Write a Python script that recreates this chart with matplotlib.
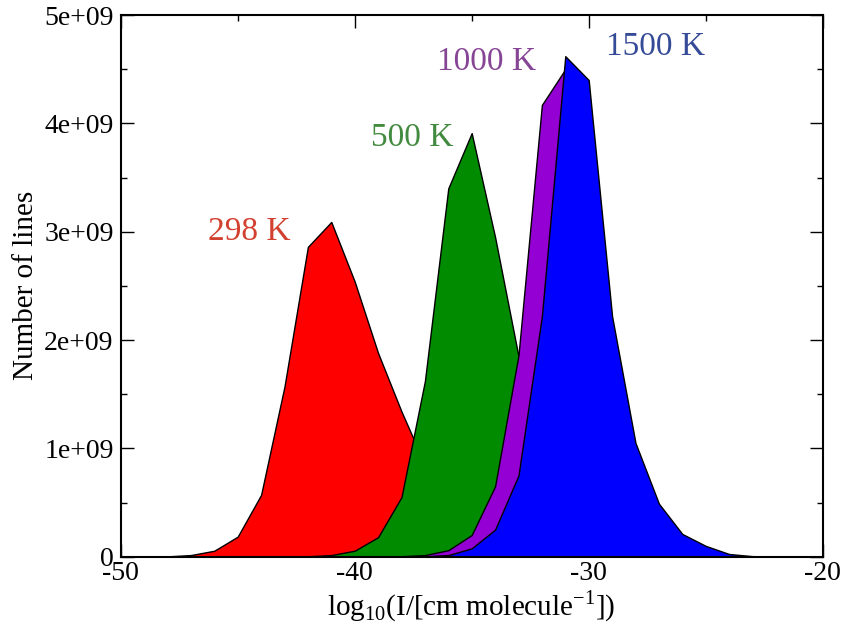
import matplotlib
matplotlib.use("Agg")
import matplotlib.pyplot as plt

# Line-intensity histograms, one bin per unit of log10(I)
LOG_I = list(range(-50, -19))

# number of lines, in units of 1e9
N_298 = [0, 0, 0.003, 0.015, 0.055, 0.185, 0.57, 1.57, 2.86, 3.09,
         2.54, 1.88, 1.34, 0.85, 0.45, 0.2, 0.08, 0.03, 0.01, 0.003,
         0, 0, 0, 0, 0, 0, 0, 0, 0, 0, 0]
N_500 = [0, 0, 0, 0, 0, 0, 0, 0.001, 0.004, 0.015,
         0.055, 0.18, 0.55, 1.62, 3.40, 3.91, 2.95, 1.85, 0.9, 0.35,
         0.12, 0.04, 0.01, 0.003, 0, 0, 0, 0, 0, 0, 0]
N_1000 = [0, 0, 0, 0, 0, 0, 0, 0, 0, 0,
          0, 0.001, 0.004, 0.015, 0.06, 0.2, 0.65, 1.86, 4.17, 4.5,
          3.3, 1.6, 0.65, 0.25, 0.09, 0.03, 0.008, 0.002, 0, 0, 0]
N_1500 = [0, 0, 0, 0, 0, 0, 0, 0, 0, 0,
          0, 0, 0.001, 0.004, 0.015, 0.077, 0.25, 0.75, 2.22, 4.62,
          4.40, 2.22, 1.05, 0.49, 0.21, 0.10, 0.025, 0.005, 0.001, 0, 0]

SERIES = [
    ("298 K", N_298, "#ff0000", "#d2402f", (-44.5, 3.0)),
    ("500 K", N_500, "#008b00", "#428a3f", (-37.55, 3.87)),
    ("1000 K", N_1000, "#9400d3", "#874596", (-34.35, 4.57)),
    ("1500 K", N_1500, "#0000ff", "#364b98", (-27.15, 4.71)),
]

plt.rcParams["font.family"] = ["Liberation Serif", "DejaVu Serif"]
plt.rcParams["mathtext.fontset"] = "custom"
plt.rcParams["mathtext.rm"] = "Liberation Serif"

fig = plt.figure(figsize=(8.45, 6.39), dpi=100)
ax = fig.add_axes([0.1428, 0.1288, 0.8308, 0.8477])

for label, counts, fill, text_color, (tx, ty) in SERIES:
    ys = [c * 1e9 for c in counts]
    ax.fill_between(LOG_I, ys, 0, facecolor=fill, edgecolor="black", linewidth=1.0, zorder=2)
    ax.text(tx, ty * 1e9, label, color=text_color, fontsize=24, ha="center", va="center", zorder=3)

ax.set_xlim(-50, -20)
ax.set_ylim(0, 5e9)
ax.set_xticks([-50, -40, -30, -20])
ax.set_xticks([-45, -35, -25], minor=True)
ax.set_yticks([i * 1e9 for i in range(6)])
ax.set_yticks([(i + 0.5) * 1e9 for i in range(5)], minor=True)
ax.set_yticklabels(["0", "1e+09", "2e+09", "3e+09", "4e+09", "5e+09"])
ax.set_xticklabels(["-50", "-40", "-30", "-20"])

ax.tick_params(which="both", direction="in", top=True, right=True, labelsize=20, width=1.0)
ax.tick_params(axis="x", which="major", length=9.5, pad=3)
ax.tick_params(axis="y", which="major", length=9.5, pad=5)
ax.tick_params(which="minor", length=4.5)
for sp in ax.spines.values():
    sp.set_linewidth(1.5)

ax.set_ylabel("Number of lines", fontsize=21, labelpad=4)
ax.set_xlabel(r"log$_{10}$(I/[cm molecule$^{-1}$])", fontsize=21, labelpad=2)

fig.savefig("out.png", dpi=100)
